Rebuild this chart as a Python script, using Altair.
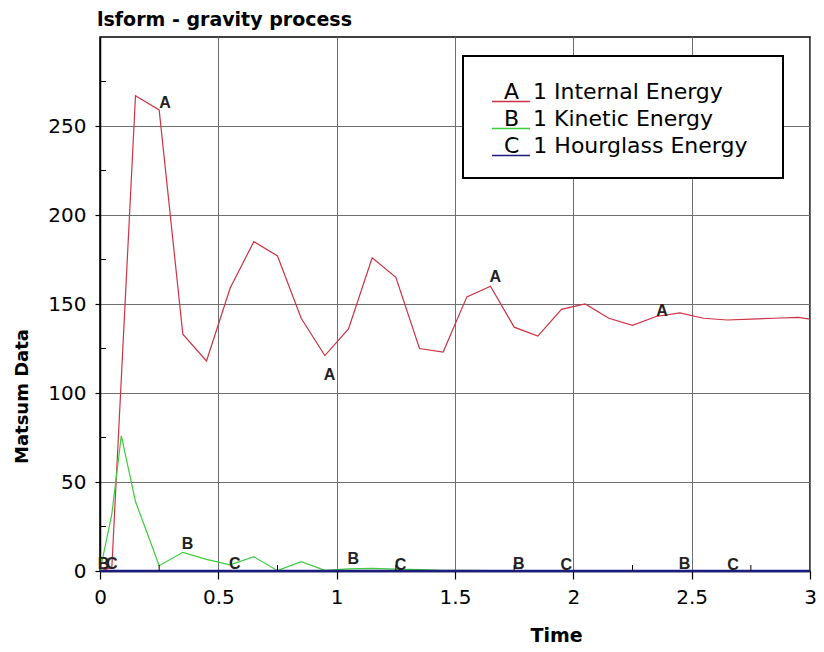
import altair as alt
import pandas as pd

# ---- data ----
time_ie = [0, 0.05, 0.15, 0.25, 0.35, 0.45, 0.55, 0.65, 0.75, 0.85, 0.95, 1.05, 1.15,
           1.25, 1.35, 1.45, 1.55, 1.65, 1.75, 1.85, 1.95, 2.05, 2.15, 2.25, 2.35, 2.45,
           2.55, 2.65, 2.75, 2.85, 2.95, 3.0]
internal_energy = [0, 2, 267, 259, 133, 118, 159, 185, 177, 142, 121, 136, 176,
                   165, 125, 123, 154, 160, 137, 132, 147, 150, 142, 138, 143, 145,
                   142, 141, 141.5, 142, 142.5, 141.5]

time_ke = [0, 0.05, 0.09, 0.15, 0.25, 0.35, 0.45, 0.55, 0.65, 0.75, 0.85, 0.95, 1.05,
           1.15, 1.25, 1.35, 1.45, 1.55, 1.65, 1.75, 1.85, 2.0, 2.5, 3.0]
kinetic_energy = [0, 32, 76, 39, 3, 10.5, 6.5, 3.5, 8, 0.2, 5.2, 0.4, 1.2,
                  1.5, 1.0, 0.8, 0.4, 0.3, 0.2, 0.15, 0.1, 0.05, 0.03, 0.02]

time_he = [0, 0.5, 1.0, 1.5, 2.0, 2.5, 3.0]
hourglass_energy = [0, 0, 0, 0, 0, 0, 0]

series_names = ["A\u00a0\u00a01 Internal Energy\u2800",
                "B\u00a0\u00a01 Kinetic Energy\u2800",
                "C\u00a0\u00a01 Hourglass Energy\u2800"]
series_colors = ["#cc3344", "#3ccc3c", "#1c1c80"]

label_letters = ["A", "A", "A", "A", "B", "B", "B", "B", "B", "C", "C", "C", "C", "C"]
label_times = [0.275, 0.97, 1.67, 2.375, 0.015, 0.37, 1.07, 1.77, 2.47,
               0.05, 0.57, 1.27, 1.97, 2.675]
label_values = [263, 110, 165, 146, 4, 15, 7, 4, 4, 4, 4, 3.5, 3.5, 3.5]

x_ticks = [0, 0.5, 1, 1.5, 2, 2.5, 3]
y_ticks = [0, 50, 100, 150, 200, 250]
x_minor = [0.25, 0.75, 1.25, 1.75, 2.25, 2.75]
y_minor = [25, 75, 125, 175, 225, 275]

# ---- tables ----
rows = []
for t, v in zip(time_ie, internal_energy):
    rows.append({"t": t, "v": v, "series": series_names[0]})
for t, v in zip(time_ke, kinetic_energy):
    rows.append({"t": t, "v": v, "series": series_names[1]})
for t, v in zip(time_he, hourglass_energy):
    rows.append({"t": t, "v": v, "series": series_names[2]})
df = pd.DataFrame(rows)
labels_df = pd.DataFrame({"t": label_times, "v": label_values, "txt": label_letters})
xminor_df = pd.DataFrame({"t": x_minor})
yminor_df = pd.DataFrame({"v": y_minor})

W, H = 710, 534
FONT = "DejaVu Sans"

x_scale = alt.Scale(domain=[0, 3], nice=False, zero=False)
y_scale = alt.Scale(domain=[0, 300], nice=False, zero=False)

x_axis = alt.Axis(values=x_ticks, format="~g", title="Time", grid=True,
                  tickSize=8, labelPadding=8, labelFontSize=20, labelFont=FONT,
                  titleFont=FONT, titleFontSize=19, titleFontWeight="bold",
                  titleX=456, titleY=70, titleAlign="center", titleBaseline="alphabetic",
                  labelFlush=False)
y_axis = alt.Axis(values=y_ticks, title="Matsum Data", grid=True,
                  tickSize=5, labelPadding=9, labelFontSize=20, labelFont=FONT,
                  titleFont=FONT, titleFontSize=18, titleFontWeight="bold",
                  titleAngle=270, titleX=-78, titleY=359, titleAlign="center",
                  titleBaseline="middle", labelFlush=False)

color_enc = alt.Color(
    "series:N",
    scale=alt.Scale(domain=series_names, range=series_colors),
    legend=alt.Legend(
        title="\u00a0", titleFontSize=6, titlePadding=0,
        orient="none", legendX=363, legendY=19,
        symbolType="M-0.1,0.95L3.7,0.95", symbolSize=400, symbolStrokeWidth=1.5,
        labelOffset=0,
        labelFont=FONT, labelFontSize=22, labelColor="black",
        padding=19, rowPadding=3, strokeColor="black",
        fillColor="white", labelLimit=400,
    ),
)

base = alt.Chart(df)

red = base.transform_filter(alt.datum.series == series_names[0]).mark_line(
    strokeWidth=1.2).encode(
    x=alt.X("t:Q", scale=x_scale, axis=x_axis),
    y=alt.Y("v:Q", scale=y_scale, axis=y_axis),
    color=color_enc,
)
green = base.transform_filter(alt.datum.series == series_names[1]).mark_line(
    strokeWidth=1.2).encode(
    x=alt.X("t:Q", scale=x_scale),
    y=alt.Y("v:Q", scale=y_scale),
    color=color_enc,
)
blue = base.transform_filter(alt.datum.series == series_names[2]).mark_line(
    strokeWidth=2.5).encode(
    x=alt.X("t:Q", scale=x_scale),
    y=alt.Y("v:Q", scale=y_scale),
    color=color_enc,
)

letters = alt.Chart(labels_df).mark_text(
    font="Liberation Sans", fontSize=16, fontWeight="bold", color="#222222",
    baseline="middle", align="center").encode(
    x=alt.X("t:Q", scale=x_scale),
    y=alt.Y("v:Q", scale=y_scale),
    text="txt:N",
)

xminor = alt.Chart(xminor_df).mark_rule(color="black", strokeWidth=1).encode(
    x=alt.X("t:Q", scale=x_scale),
    y=alt.value(H),
    y2=alt.value(H - 6),
)
yminor = alt.Chart(yminor_df).mark_rule(color="black", strokeWidth=1).encode(
    y=alt.Y("v:Q", scale=y_scale),
    x=alt.value(0),
    x2=alt.value(6),
)

chart = alt.layer(red, green, blue, letters, xminor, yminor).properties(
    width=W, height=H,
    autosize=alt.AutoSizeParams(type="none"),
    padding={"left": 92, "top": 29, "right": 6, "bottom": 73},
    title=alt.TitleParams("lsform - gravity process", anchor="start", frame="group",
                          font=FONT, fontSize=19, fontWeight="bold", color="black",
                          offset=7, dx=-3),
    background="white",
).configure_view(
    stroke="black", strokeWidth=1.5
).configure_axis(
    domainColor="black", domainWidth=1.5, tickColor="black", tickWidth=1.2,
    gridColor="#6e6e6e", gridWidth=1, gridOpacity=1,
    labelColor="black", titleColor="black",
).configure_legend(
    strokeWidth=2
)

chart.save("out.html", embed_options={"renderer": "svg", "actions": False})
